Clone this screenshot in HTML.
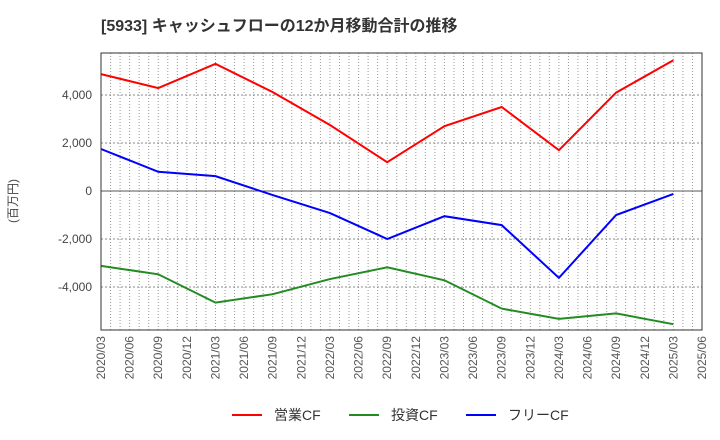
<!DOCTYPE html>
<html><head><meta charset="utf-8"><style>
body{margin:0;background:#fff;}
svg{display:block;font-family:"Liberation Sans","Noto Sans CJK JP",sans-serif;}
</style></head><body>
<svg id="chart" width="720" height="440">
<text x="101" y="31" font-size="16" font-weight="bold" fill="#333">[5933]  キャッシュフローの12か月移動合計の推移</text>
<text transform="translate(17,201) rotate(-90)" text-anchor="middle" font-size="12" fill="#444">(百万円)</text>
<g id="grid"></g><g id="series"></g><g id="axes"></g>
<rect x="101" y="53" width="601" height="277" fill="none" stroke="#333" stroke-width="1"/>
<g>
<line x1="232" y1="415" x2="262" y2="415" stroke="#f00" stroke-width="2"/>
<text x="274" y="420" font-size="14" fill="#333">営業CF</text>
<line x1="349" y1="415" x2="379" y2="415" stroke="#228b22" stroke-width="2"/>
<text x="391" y="420" font-size="14" fill="#333">投資CF</text>
<line x1="466" y1="415" x2="496" y2="415" stroke="#00f" stroke-width="2"/>
<text x="508" y="420" font-size="14" fill="#333">フリーCF</text>
</g>
</svg>
<script>
const xTickLabels=["2020/03","2020/06","2020/09","2020/12","2021/03","2021/06","2021/09","2021/12","2022/03","2022/06","2022/09","2022/12","2023/03","2023/06","2023/09","2023/12","2024/03","2024/06","2024/09","2024/12","2025/03","2025/06"];
const yTicks=[-4000,-2000,0,2000,4000];
const pointQuarters=[0,2,4,6,8,10,12,14,16,18,20];
const operatingCF=[4870,4290,5300,4120,2750,1200,2700,3500,1700,4100,5450];
const investingCF=[-3120,-3470,-4650,-4300,-3670,-3180,-3720,-4900,-5330,-5100,-5550];
const freeCF=[1750,800,620,-170,-920,-2000,-1050,-1420,-3620,-1000,-120];
const NS="http://www.w3.org/2000/svg";
const L=101,R=702,T=53,B=330;
const xq=q=>L+(R-L)*q/21;
const xm=m=>L+(R-L)*m/63;
const y=v=>191-v*0.024;
function mk(tag,attrs,parent){const e=document.createElementNS(NS,tag);for(const k in attrs)e.setAttribute(k,attrs[k]);parent.appendChild(e);return e;}
const grid=document.getElementById('grid'),axes=document.getElementById('axes'),ser=document.getElementById('series');
for(let m=1;m<63;m++){const l=mk('line',{x1:xm(m),x2:xm(m),y1:T,y2:B,stroke:'#999','stroke-width':1,'stroke-dasharray':'1,2'},grid);

}
yTicks.forEach(v=>{const l=mk('line',{x1:L,x2:R,y1:y(v),y2:y(v),stroke:v===0?'#555':'#888','stroke-width':1,'stroke-dasharray':v===0?'none':'2,2'},grid);


const t=mk('text',{x:L-9,y:y(v)+4,'text-anchor':'end','font-size':12,fill:'#444'},axes);t.textContent=v.toLocaleString('en-US');

});
xTickLabels.forEach((s,i)=>{const t=mk('text',{transform:`translate(${xq(i)+4},${B+6}) rotate(-90)`,'text-anchor':'end','font-size':12,fill:'#555'},axes);t.textContent=s;

});
[[operatingCF,'#f00','operating-cf-line'],[investingCF,'#228b22','investing-cf-line'],[freeCF,'#00f','free-cf-line']].forEach(([d,c,n])=>{
const p=mk('polyline',{points:d.map((v,i)=>xq(pointQuarters[i])+','+y(v)).join(' '),fill:'none',stroke:c,'stroke-width':2},ser);

});
</script>
</body></html>
